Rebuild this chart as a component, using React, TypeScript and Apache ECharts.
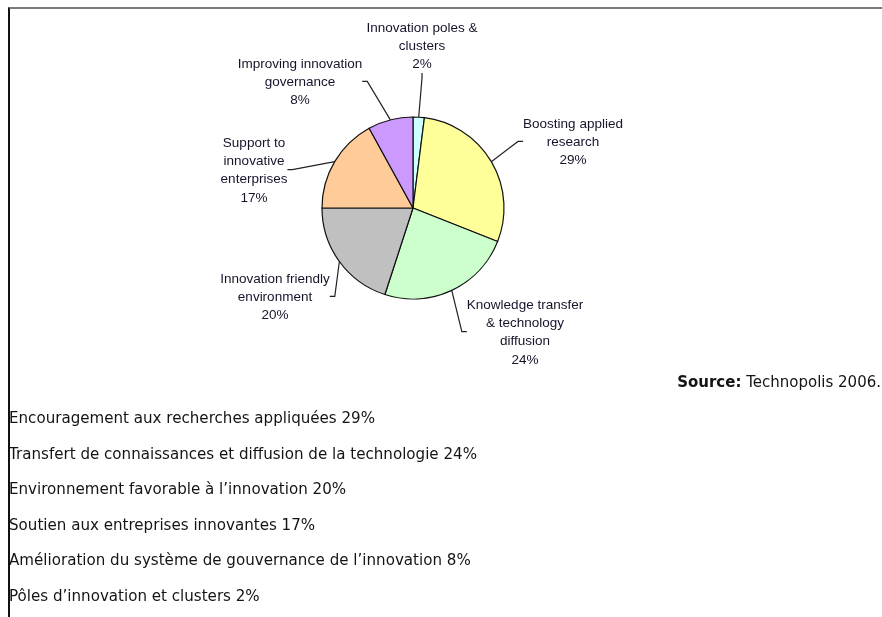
import React, { useEffect, useRef } from 'react';
import * as echarts from 'echarts';

// Pie slices, clockwise from 12 o'clock
const categories = [
  'Innovation poles &\nclusters',
  'Boosting applied\nresearch',
  'Knowledge transfer\n& technology\ndiffusion',
  'Innovation friendly\nenvironment',
  'Support to\ninnovative\nenterprises',
  'Improving innovation\ngovernance',
];
const shares = [2, 29, 24, 20, 17, 8];
const sliceColors = ['#ccffff', '#ffff99', '#ccffcc', '#c0c0c0', '#ffcc99', '#cc99ff'];

// French list below the chart
const frenchLabels = [
  'Encouragement aux recherches appliquées',
  'Transfert de connaissances et diffusion de la technologie',
  'Environnement favorable à l’innovation',
  'Soutien aux entreprises innovantes',
  'Amélioration du système de gouvernance de l’innovation',
  'Pôles d’innovation et clusters',
];
const frenchShares = [29, 24, 20, 17, 8, 2];
const sourceTitle = 'Source:';
const sourceText = 'Technopolis 2006.';

// Layout (label centre x, label top y) in page pixels
const labelAnchors: number[][] = [
  [422, 18],
  [573, 114],
  [525, 295],
  [275, 269],
  [254, 133],
  [300, 54],
];

export default function App() {
  const ref = useRef<HTMLDivElement>(null);
  useEffect(() => {
    if (!ref.current) return;
    const chart = echarts.init(ref.current, undefined, { renderer: 'svg' });
    const listFont = 'DejaVu Sans';
    const listTop = 418;
    const listStep = 35.6;
    const graphics: any[] = frenchLabels.map((lab, i) => ({
      type: 'text',
      x: 9,
      y: listTop + i * listStep,
      style: {
        text: `${lab} ${frenchShares[i]}%`,
        fontFamily: listFont,
        fontSize: 15.1,
        fill: '#141414',
        align: 'left',
        verticalAlign: 'middle',
      },
    }));
    graphics.push({
      type: 'text',
      x: 881,
      y: 382,
      style: {
        text: `{b|${sourceTitle}} ${sourceText}`,
        fontFamily: listFont,
        fontSize: 15,
        fill: '#141414',
        align: 'right',
        verticalAlign: 'middle',
        rich: {
          b: { fontFamily: listFont, fontSize: 15, fontWeight: 'bold', fill: '#141414' },
        },
      },
    });
    chart.setOption({
      animation: false,
      graphic: graphics,
      series: [
        {
          type: 'pie',
          center: [413, 208],
          radius: 91,
          startAngle: 90,
          clockwise: true,
          data: categories.map((name, i) => ({
            name,
            value: shares[i],
            itemStyle: { color: sliceColors[i] },
          })),
          itemStyle: { borderColor: '#111', borderWidth: 1.2 },
          label: {
            show: true,
            position: 'outside',
            formatter: (p: any) => `${p.name}\n${p.value}%`,
            fontFamily: 'Liberation Sans',
            fontSize: 13.5,
            lineHeight: 18.3,
            color: '#14142a',
            align: 'center',
          },
          labelLine: {
            show: true,
            length: 10,
            length2: 5,
            lineStyle: { color: '#222', width: 1.2 },
          },
          labelLayout: (params: any) => {
            const a = labelAnchors[params.dataIndex];
            return { x: a[0], y: a[1], align: 'center', verticalAlign: 'top' };
          },
          emphasis: { disabled: true },
        },
      ],
    });
    return () => chart.dispose();
  }, []);
  return (
    <>
      <div
        style={{
          position: 'fixed',
          left: 8,
          top: 7,
          width: 874,
          height: 620,
          borderTop: '2px solid #7a7a7a',
          borderLeft: '2px solid #111',
          boxSizing: 'border-box',
        }}
      />
      <div ref={ref} style={{ position: 'fixed', left: 0, top: 0, width: 882, height: 617 }} />
    </>
  );
}
